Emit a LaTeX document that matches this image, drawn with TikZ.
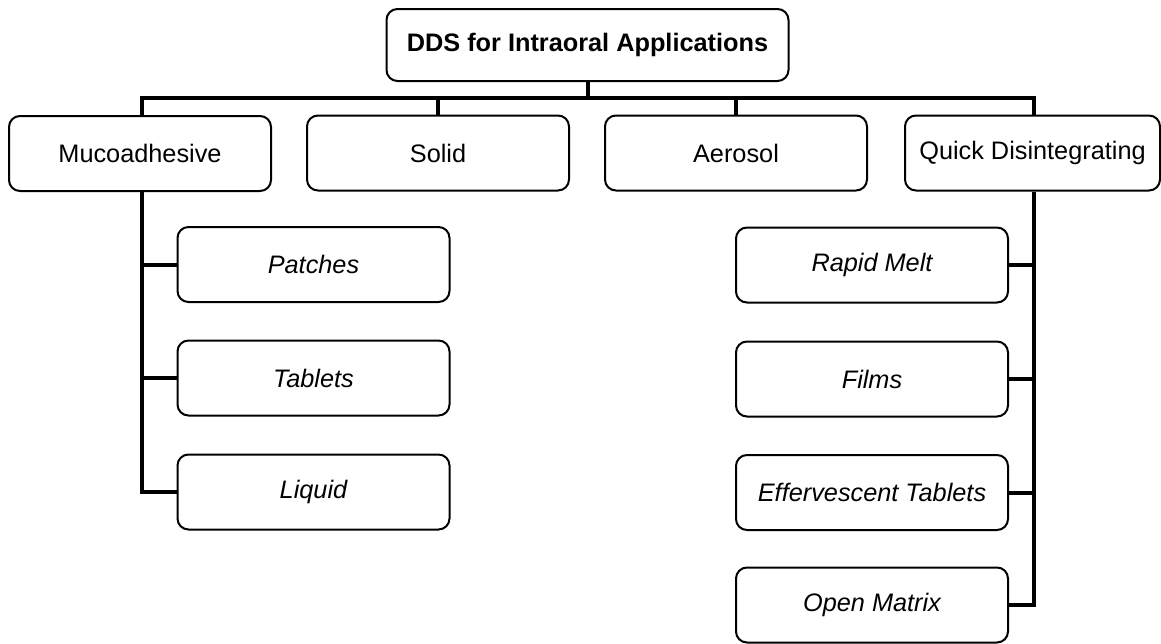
\documentclass[tikz,border=0pt]{standalone}
\usepackage{fontspec}
\setmainfont{Liberation Sans}
\begin{document}
\begin{tikzpicture}[x=1pt,y=-1pt,
  box/.style={draw=black, line width=2pt, rounded corners=11pt, fill=white,
    minimum width=262pt, minimum height=75pt, inner sep=0pt,
    font=\fontsize{25.3}{29}\selectfont},
  subbox/.style={box, minimum width=272pt, font=\fontsize{25.3}{29}\selectfont\itshape},
  conn/.style={draw=black, line width=4pt}]
\useasboundingbox (0,0) rectangle (1161,643);
\node[box, minimum width=402pt, minimum height=72pt, font=\fontsize{25.3}{29}\selectfont\bfseries] (top) at (587.5,45) {DDS for Intraoral Applications};
\node[box] (muco) at (140,153.5) {Mucoadhesive};
\node[box] (solid) at (438,153) {Solid};
\node[box] (aero) at (736,153) {Aerosol};
\node[box, minimum width=255pt] (quick) at (1032.5,153) {Quick Disintegrating};
\node[subbox] (patches) at (313.5,264.5) {Patches};
\node[subbox] (tablets) at (313.5,378) {Tablets};
\node[subbox] (liquid) at (313.5,492) {Liquid};
\node[subbox] (rapid) at (872,265) {Rapid Melt};
\node[subbox] (films) at (872,379) {Films};
\node[subbox] (eff) at (872,492.5) {Effervescent Tablets};
\node[subbox] (open) at (872,605) {Open Matrix};
\coordinate (bar) at (0,98);
\coordinate (lsp) at (142,0);
\coordinate (rsp) at (1034,0);
\draw[conn] (top.south) -- (top.south |- bar);
\draw[conn] (muco.north -| lsp) -- (lsp |- bar) -- (rsp |- bar) -- (quick.north -| rsp);
\draw[conn] (solid.north) -- (solid.north |- bar);
\draw[conn] (aero.north) -- (aero.north |- bar);
\draw[conn] (muco.south -| lsp) -- (lsp |- liquid.west) -- (liquid.west);
\draw[conn] (lsp |- patches.west) -- (patches.west);
\draw[conn] (lsp |- tablets.west) -- (tablets.west);
\draw[conn] (quick.south -| rsp) -- (rsp |- open.east) -- (open.east);
\draw[conn] (rsp |- rapid.east) -- (rapid.east);
\draw[conn] (rsp |- films.east) -- (films.east);
\draw[conn] (rsp |- eff.east) -- (eff.east);
\end{tikzpicture}
\end{document}
